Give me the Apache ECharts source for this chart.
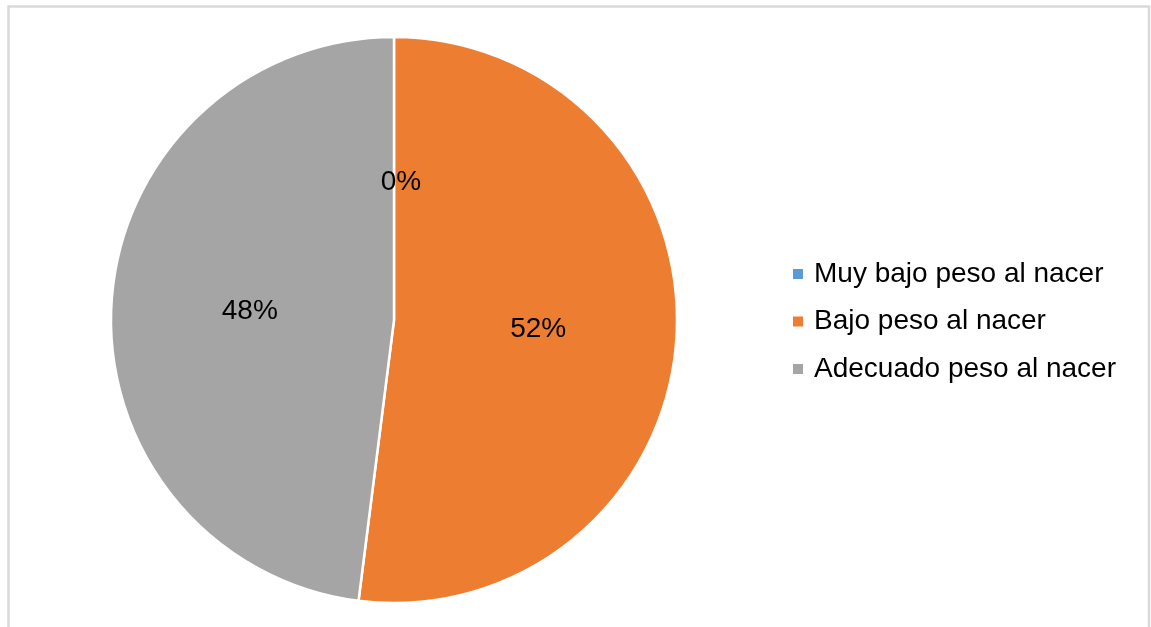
<!DOCTYPE html>
<html>
<head>
<meta charset="utf-8">
<script src="https://cdn.jsdelivr.net/npm/echarts@6/dist/echarts.min.js"></script>
<style>
  html, body { margin: 0; padding: 0; background: #ffffff; }
  #chart { width: 1151px; height: 627px; }
</style>
</head>
<body>
<div id="chart"></div>
<script>
// Birth-weight categories and their share (percent)
const categories = ['Muy bajo peso al nacer', 'Bajo peso al nacer', 'Adecuado peso al nacer'];
const values = [0, 52, 48];
const colors = ['#5B9BD5', '#ED7D31', '#A5A5A5'];

const chart = echarts.init(document.getElementById('chart'));
const font = '"Liberation Sans", Arial, sans-serif';

chart.setOption({
  animation: false,
  color: colors,
  graphic: [{
    type: 'rect',
    shape: { x: 8.5, y: 6.5, width: 1140.5, height: 660 },
    style: { fill: 'none', stroke: '#d9d9d9', lineWidth: 2.5 },
    silent: true
  }],
  legend: {
    orient: 'vertical',
    left: 788,
    top: 254,
    itemWidth: 10,
    itemHeight: 10,
    itemGap: 17.5,
    icon: 'rect',
    itemStyle: { borderWidth: 0, borderColor: 'transparent' },
    textStyle: {
      fontFamily: font,
      fontSize: 28,
      color: '#000000',
      lineHeight: 30,
      padding: [0, 0, 0, 6]
    },
    data: categories
  },
  series: [{
    type: 'pie',
    center: [394, 320],
    radius: [0, 283],
    startAngle: 90,
    clockwise: true,
    percentPrecision: 0,
    avoidLabelOverlap: false,
    itemStyle: { borderColor: '#ffffff', borderWidth: 2.5 },
    label: {
      show: true,
      position: 'inside',
      formatter: '{d}%',
      fontFamily: font,
      fontSize: 28,
      color: '#000000'
    },
    labelLine: { show: false },
    emphasis: { disabled: true },
    data: categories.map((name, i) => ({
      name: name,
      value: values[i],
      label: i === 0 ? { offset: [7, 7] } : undefined
    }))
  }]
});
</script>
</body>
</html>
